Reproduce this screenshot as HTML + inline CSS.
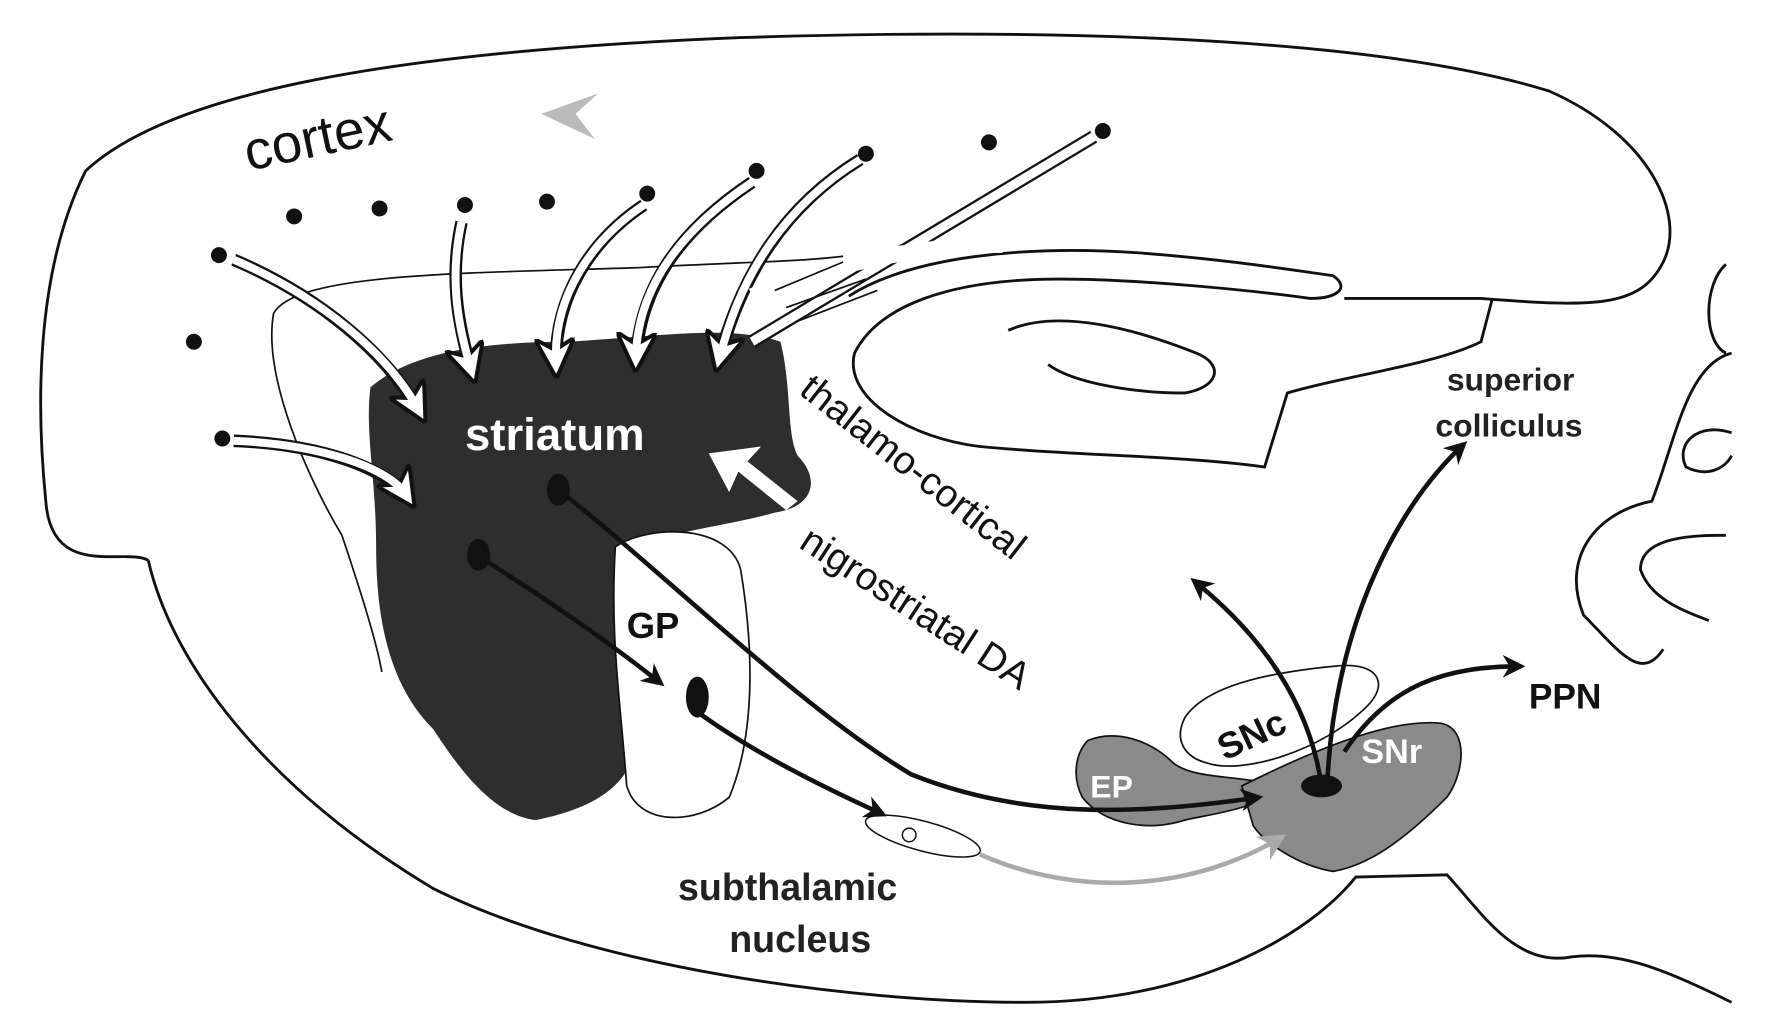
<!DOCTYPE html>
<html><head><meta charset="utf-8"><style>html,body{margin:0;padding:0;background:#fff}svg{display:block}</style></head>
<body>
<svg width="1766" height="1024" viewBox="0 0 1550 899" xmlns="http://www.w3.org/2000/svg" font-family="Liberation Sans, Arial, sans-serif">
<defs>
<marker id="ah" viewBox="0 0 10 10" refX="8" refY="5" markerWidth="5" markerHeight="5" orient="auto"><path d="M0,0 L10,5 L0,10 L3,5 Z" fill="#111"/></marker>
<marker id="wh" viewBox="0 0 10 10" refX="8" refY="5" markerWidth="3.2" markerHeight="3.2" orient="auto"><path d="M0,0 L10,5 L0,10 L3,5 Z" fill="#fff" stroke="#111" stroke-width="1"/></marker>
<marker id="gh" viewBox="0 0 10 10" refX="8" refY="5" markerWidth="6" markerHeight="6" orient="auto"><path d="M0,0 L10,5 L0,10 L3,5 Z" fill="#aaa"/></marker>
</defs>
<g fill="none" stroke="#111" stroke-width="2.5">
<path d="M130,492 C110,480 45,510 40,440 C32,360 30,240 75,150 C150,80 350,45 650,33 C900,25 1200,30 1360,80 C1450,120 1480,190 1460,230 C1440,270 1400,270 1300,262 L1180,262"/>
<path d="M130,492 C150,580 230,690 380,780 C520,850 750,880 900,880 C1050,880 1150,820 1190,770 L1270,768 C1300,800 1330,850 1380,840 C1420,835 1460,850 1520,880"/>
<path d="M745,260 C800,225 900,215 1000,222 C1080,228 1140,238 1170,242 C1185,252 1175,262 1150,262 C1100,255 1000,245 930,245 C830,245 770,270 750,310 C740,350 800,385 860,392 C940,400 1040,400 1110,410 L1130,345 C1180,330 1260,320 1300,300 L1310,262"/>
<path d="M885,290 C930,270 1000,290 1050,310 C1075,320 1070,340 1040,345 C990,345 940,335 920,320"/>
<path d="M1515,232 C1495,250 1495,300 1515,310"/>
<path d="M1520,310 C1480,320 1470,390 1450,440 C1400,450 1370,490 1390,540 C1420,570 1440,600 1460,570"/>
<path d="M1520,380 C1490,370 1470,390 1480,410 C1500,420 1515,410 1520,400"/>
<path d="M1515,470 C1490,470 1440,470 1440,500 C1450,530 1490,540 1500,545"/>
<path d="M300,470 C270,420 230,330 240,275 C260,240 400,240 560,235 C650,230 700,230 740,225" stroke-width="1.5"/>
<path d="M300,470 C310,500 330,560 335,590" stroke-width="1.5"/>
</g>
<path d="M325,340 C360,310 420,300 500,300 C580,295 640,285 685,300 C695,340 690,380 700,400 C720,420 715,445 680,450 C645,460 600,465 560,478 C540,520 540,600 558,650 C555,690 520,710 470,720 C430,715 400,670 380,640 C340,600 330,540 330,480 C330,420 320,380 325,340 Z" fill="#2e2e2e"/>
<path d="M540,480 C570,460 640,460 650,500 C660,560 665,640 640,700 C610,725 560,725 550,690 C545,620 535,560 540,480 Z" fill="#fff" stroke="#111" stroke-width="1.5"/>
<path d="M955,650 C980,640 1010,650 1030,670 C1050,685 1090,680 1120,690 C1110,710 1060,715 1040,720 C1010,730 970,725 950,700 C940,680 945,660 955,650 Z" fill="#8a8a8a" stroke="#111" stroke-width="1.5"/>
<path d="M1090,690 C1150,660 1220,630 1265,635 C1290,640 1285,680 1270,700 C1230,740 1200,760 1170,765 C1140,760 1110,740 1100,725 Z" fill="#8a8a8a" stroke="#111" stroke-width="1.5"/>
<path d="M1040,630 C1060,600 1120,590 1170,585 C1210,580 1220,600 1200,620 C1160,660 1090,680 1060,670 C1040,665 1030,650 1040,630 Z" fill="#fff" stroke="#111" stroke-width="1.5"/>
<ellipse cx="810" cy="734" rx="52" ry="13" transform="rotate(15 810 734)" fill="#fff" stroke="#111" stroke-width="1.3"/>
<circle cx="798" cy="733" r="6" fill="#fff" stroke="#111" stroke-width="1.3"/>
<g fill="#111">
<circle cx="192" cy="224" r="7"/><circle cx="258" cy="190" r="7"/><circle cx="333" cy="183" r="7"/><circle cx="408" cy="180" r="7"/><circle cx="480" cy="177" r="7"/><circle cx="568" cy="170" r="7"/><circle cx="664" cy="150" r="7"/><circle cx="760" cy="135" r="7"/><circle cx="868" cy="125" r="7"/><circle cx="968" cy="115" r="7"/><circle cx="170" cy="300" r="7"/><circle cx="195" cy="385" r="7"/>
</g>
<g fill="none" stroke-linecap="butt">
<g stroke="#111" stroke-width="11">
<path d="M205,228 C280,260 340,310 370,365" marker-end="url(#wh)"/>
<path d="M405,195 C395,240 400,280 415,330" marker-end="url(#wh)"/>
<path d="M565,180 C520,210 485,260 488,325" marker-end="url(#wh)"/>
<path d="M660,160 C600,200 560,250 558,320" marker-end="url(#wh)"/>
<path d="M755,140 C690,180 650,240 630,320" marker-end="url(#wh)"/>
<path d="M205,387 C280,390 340,410 360,440" marker-end="url(#wh)"/>
</g>
<g stroke="#fff" stroke-width="7">
<path d="M205,228 C280,260 340,310 366,358"/>
<path d="M405,195 C395,240 400,280 413,323"/>
<path d="M565,180 C520,210 485,260 488,318"/>
<path d="M660,160 C600,200 560,250 558,313"/>
<path d="M755,140 C690,180 650,240 632,313"/>
<path d="M205,387 C280,390 340,410 356,434"/>
</g>
<path d="M960,120 L660,300" stroke="#111" stroke-width="12"/><path d="M960,120 L660,300" stroke="#fff" stroke-width="8"/>
<path d="M660,260 C720,235 800,215 880,215" stroke="#fff" stroke-width="14"/>
<path d="M680,255 L740,230 M690,270 L760,245 M700,282 L770,255" stroke="#111" stroke-width="1.5"/>
</g>
<path d="M475,100 L525,82 L505,100 L522,122 Z" fill="#bbb"/>
<!-- nigrostriatal white arrowhead -->
<path d="M622,398 L668,392 L656,405 L700,440 L690,448 L648,414 L640,432 Z" fill="#fff"/>
<g fill="none" stroke="#111" stroke-width="4">
<path d="M418,487 C470,520 530,560 580,600" marker-end="url(#ah)"/>
<path d="M490,430 C580,500 700,620 800,680 C900,720 1000,715 1105,700" marker-end="url(#ah)"/>
<path d="M612,625 C660,660 720,690 775,715" marker-end="url(#ah)"/>
<path d="M1160,690 C1150,620 1110,560 1048,510" marker-end="url(#ah)"/>
<path d="M1165,690 C1170,560 1220,450 1285,390" marker-end="url(#ah)"/>
<path d="M1180,660 C1220,600 1270,585 1335,585" marker-end="url(#ah)"/>
</g>
<path d="M860,750 C950,790 1050,780 1125,735" fill="none" stroke="#aaa" stroke-width="4" marker-end="url(#gh)"/>
<g fill="#111">
<ellipse cx="490" cy="430" rx="10" ry="14"/><ellipse cx="420" cy="487" rx="10" ry="14"/><ellipse cx="612" cy="612" rx="10" ry="18"/><ellipse cx="1160" cy="690" rx="18" ry="10"/>
</g>
<text x="218" y="150" font-size="48" fill="#111" transform="rotate(-12 218 150)">cortex</text>
<text x="408" y="395" font-size="40" font-weight="bold" fill="#fff">striatum</text>
<text x="550" y="560" font-size="32" font-weight="bold" fill="#111">GP</text>
<text x="700" y="345" font-size="34" fill="#111" transform="rotate(38 700 345)">thalamo-cortical</text>
<text x="700" y="480" font-size="34" fill="#111" transform="rotate(33 700 480)">nigrostriatal DA</text>
<text x="595" y="790" font-size="33" font-weight="bold" fill="#222">subthalamic</text>
<text x="640" y="836" font-size="33" font-weight="bold" fill="#222">nucleus</text>
<text x="1270" y="343" font-size="28" font-weight="bold" fill="#222">superior</text>
<text x="1260" y="383" font-size="28" font-weight="bold" fill="#222">colliculus</text>
<text x="1342" y="622" font-size="31" font-weight="bold" fill="#111">PPN</text>
<text x="957" y="700" font-size="28" font-weight="bold" fill="#fff">EP</text>
<text x="1195" y="670" font-size="30" font-weight="bold" fill="#fff">SNr</text>
<text x="1075" y="668" font-size="32" font-weight="bold" fill="#111" transform="rotate(-25 1075 668)">SNc</text>
</svg>
</body></html>
